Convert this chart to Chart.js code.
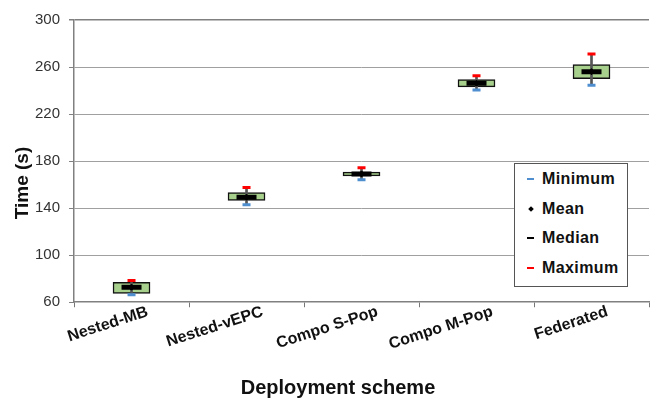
<!DOCTYPE html>
<html>
<head>
<meta charset="utf-8">
<script src="https://cdn.jsdelivr.net/npm/chart.js@4.4.1/dist/chart.umd.min.js"></script>
<style>
  html, body { margin: 0; padding: 0; background: #fff; }
  #wrap { position: relative; width: 657px; height: 401px; }
  #legend { position: absolute; left: 514px; top: 163px; width: 114px; height: 124px;
    border: 1.5px solid #555; background: #fff; font-family: "Liberation Sans", Arial, sans-serif;
    font-weight: bold; font-size: 16px; letter-spacing: 0.4px; color: #111; box-sizing: border-box; }
  .item { position: absolute; left: 9px; height: 20px; line-height: 20px; white-space: nowrap; }
  .sw { display: inline-block; width: 12px; vertical-align: top; margin-right: 6px; position: relative; height: 20px; }
  .sw i { position: absolute; left: 3px; top: 9px; width: 7px; height: 2px; }
  .sw b { position: absolute; left: 5px; top: 8px; width: 4px; height: 4px; background: #000; transform: rotate(45deg); }
</style>
</head>
<body>
<div id="wrap">
  <canvas id="c" width="657" height="401"></canvas>
  <div id="legend">
    <div class="item" style="top:5px"><span class="sw"><i style="background:#4F8FD0"></i></span>Minimum</div>
    <div class="item" style="top:35px"><span class="sw"><b></b></span>Mean</div>
    <div class="item" style="top:64px"><span class="sw"><i style="background:#000"></i></span>Median</div>
    <div class="item" style="top:94px"><span class="sw"><i style="background:#FF0000"></i></span>Maximum</div>
  </div>
</div>
<script>
const categories = ["Nested-MB", "Nested-vEPC", "Compo S-Pop", "Compo M-Pop", "Federated"];
const minimum = [66.3, 142.9, 164.2, 240.5, 244.6];
const maximum = [78.5, 157.5, 174.3, 252.5, 271.0];
const boxLow  = [67.6, 146.5, 167.5, 243.1, 250.1];
const boxHigh = [76.9, 153.3, 170.7, 249.3, 262.0];
const median  = [72.8, 149.3, 169.1, 246.3, 256.1];
const mean    = [72.8, 149.3, 169.1, 246.3, 256.1];
const yTicks  = [60, 100, 140, 180, 220, 260, 300];
const xTitle = "Deployment scheme";
const yTitle = "Time (s)";

const boxData = categories.map((c, i) => [boxLow[i], boxHigh[i]]);
const whiskerData = categories.map((c, i) => [minimum[i], maximum[i]]);

const font = "'Liberation Sans', Arial, sans-serif";

const axisTitles = {
  id: 'axisTitles',
  afterDraw(chart) {
    const ctx = chart.ctx;
    ctx.save();
    ctx.fillStyle = '#111';
    ctx.textAlign = 'center';
    ctx.textBaseline = 'middle';
    ctx.font = "bold 20px " + font;
    ctx.fillText(xTitle, 338, 388);
    ctx.translate(23, 183);
    ctx.rotate(-Math.PI / 2);
    ctx.font = "bold 19px " + font;
    ctx.fillText(yTitle, 0, 0);
    ctx.restore();
  }
};

new Chart(document.getElementById('c'), {
  data: {
    labels: categories,
    datasets: [
      { type: 'bar', label: 'Box', data: boxData, backgroundColor: '#A8D08D', borderColor: '#111',
        borderWidth: 1.5, borderSkipped: false, barThickness: 37, grouped: false, order: 5 },
      { type: 'bar', label: 'Whisker', data: whiskerData, backgroundColor: '#555', borderWidth: 0,
        barThickness: 2, grouped: false, order: 4 },
      { type: 'line', label: 'Median', data: median, showLine: false, pointStyle: 'line',
        pointRadius: 10, pointHoverRadius: 10, borderColor: '#000', borderWidth: 5, pointBorderWidth: 5, order: 3 },
      { type: 'line', label: 'Mean', data: mean, showLine: false, pointStyle: 'rectRot',
        pointRadius: 3, backgroundColor: '#000', borderColor: '#000', order: 2 },
      { type: 'line', label: 'Minimum', data: minimum, showLine: false, pointStyle: 'line',
        pointRadius: 4, borderColor: '#4F8FD0', pointBorderWidth: 3, order: 1 },
      { type: 'line', label: 'Maximum', data: maximum, showLine: false, pointStyle: 'line',
        pointRadius: 4, borderColor: '#FF0000', pointBorderWidth: 3, order: 1 }
    ]
  },
  options: {
    responsive: false,
    animation: false,
    layout: { autoPadding: false, padding: { top: 20, right: 8, left: 26, bottom: 52 } },
    plugins: { legend: { display: false }, tooltip: { enabled: false } },
    scales: {
      x: {
        type: 'category',
        offset: true,
        grid: { offset: true, drawOnChartArea: false, color: '#777', tickLength: 5, lineWidth: 1 },
        border: { color: '#808080', width: 1.5 },
        ticks: { minRotation: 18, maxRotation: 18, labelOffset: 16, color: '#111', font: { family: font, size: 16, weight: 'bold' }, padding: -5 },
        title: { display: false },
        afterFit: (s) => { s.paddingLeft = 0; s.paddingRight = 0; }
      },
      y: {
        min: 60, max: 300,
        afterBuildTicks: (s) => { s.ticks = yTicks.map(v => ({ value: v })); },
        grid: {
          color: (ctx) => (ctx.tick && (ctx.tick.value === 60)) ? 'rgba(0,0,0,0)' : (ctx.tick && ctx.tick.value === 300 ? '#808080' : '#A0A0A0'),
          lineWidth: (ctx) => (ctx.tick && ctx.tick.value === 300) ? 1.5 : 1,
          tickColor: '#808080',
          tickLength: 5
        },
        border: { color: '#808080', width: 1.5 },
        ticks: { color: '#333', font: { family: font, size: 15 }, padding: 9 },
        title: { display: false }
      }
    }
  },
  plugins: [axisTitles]
});
</script>
</body>
</html>
